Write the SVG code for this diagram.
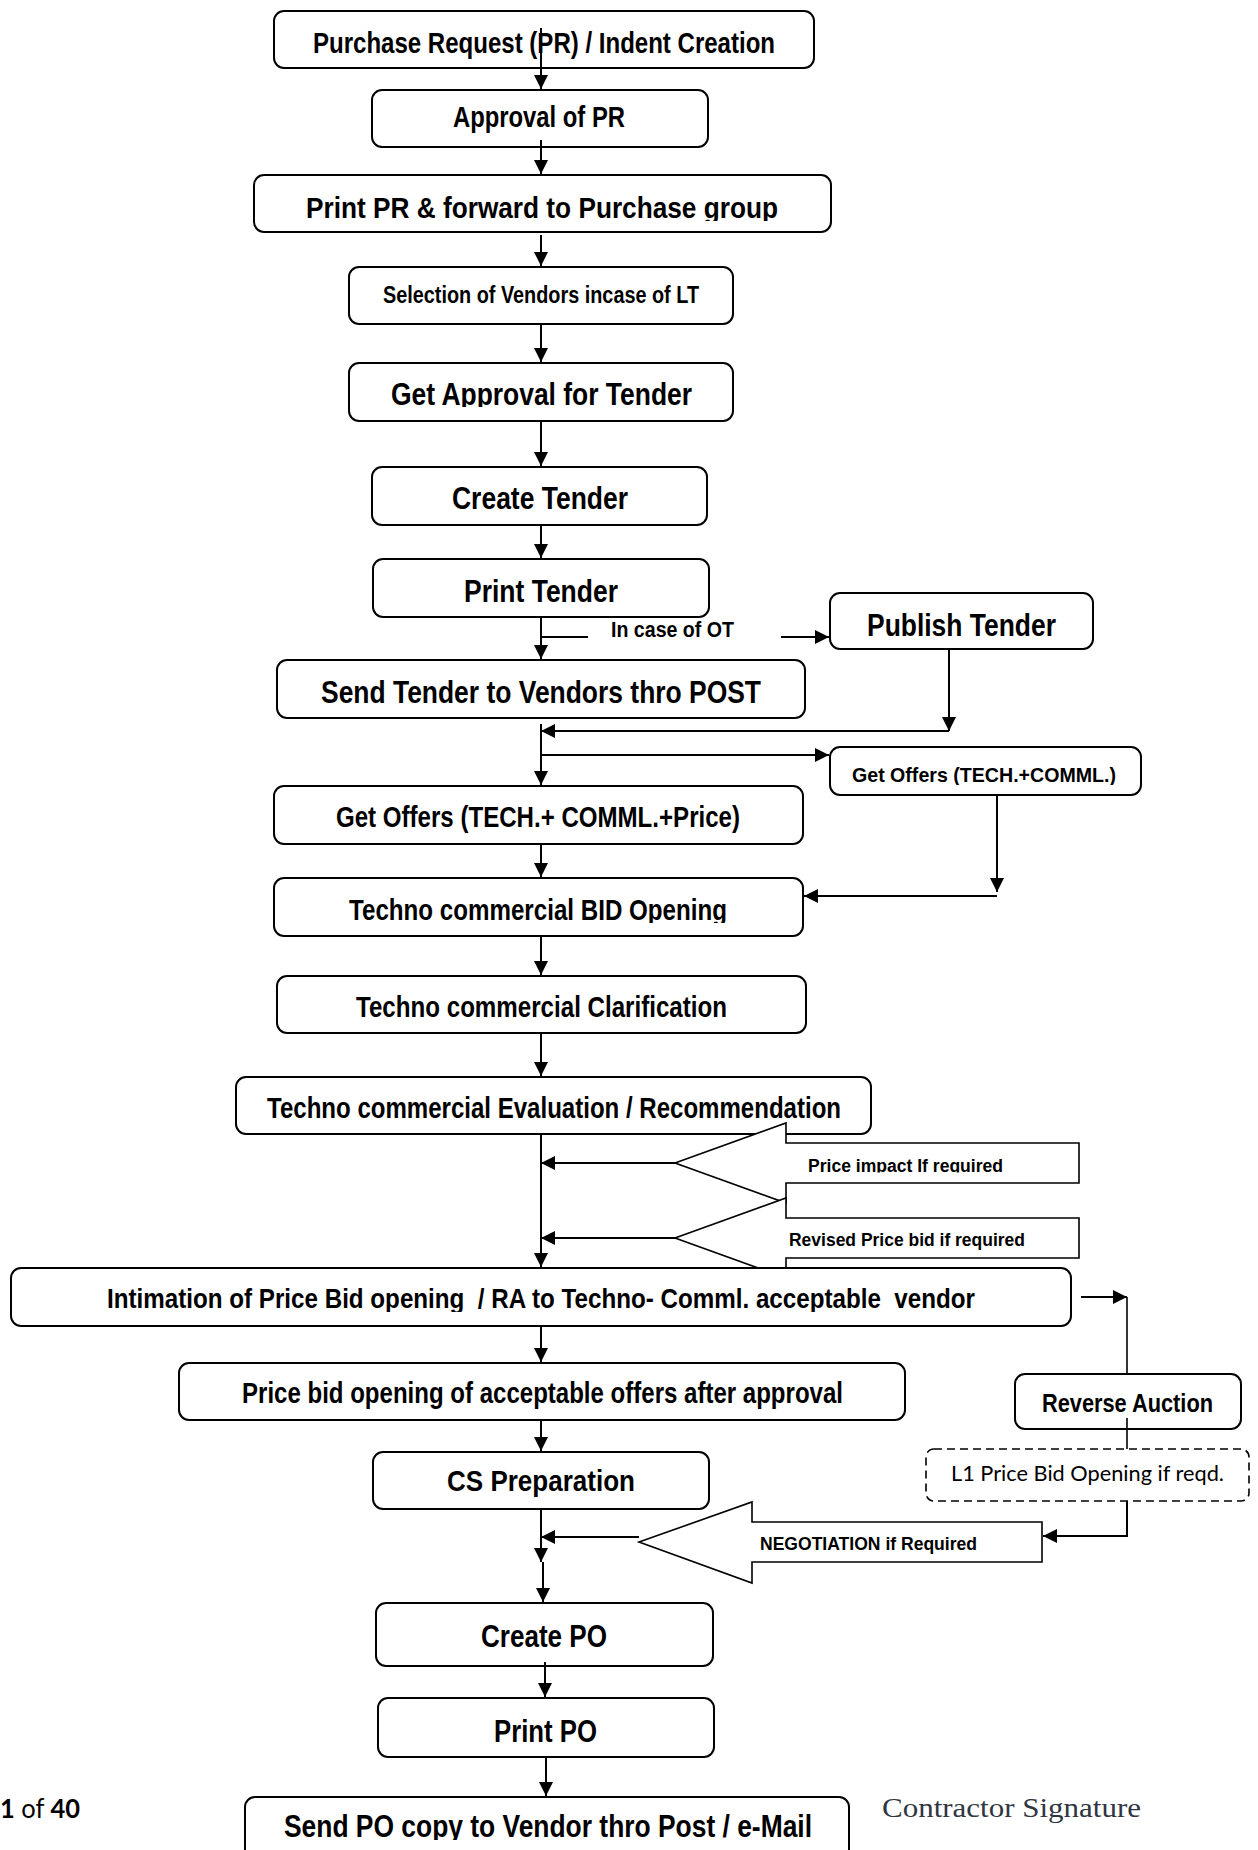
<svg xmlns="http://www.w3.org/2000/svg" width="1258" height="1850" viewBox="0 0 1258 1850">
<style>
.box{fill:#fff;stroke:#000;stroke-width:2}
.dash{fill:#fff;stroke:#000;stroke-width:1.6;stroke-dasharray:8 5}
.barrow{fill:#fff;stroke:#000;stroke-width:1.6}
.t{font-family:"Liberation Sans Narrow","Liberation Sans",Arial,sans-serif;font-weight:bold;fill:#000}
.ln{fill:none;stroke:#000;stroke-width:2}
</style>
<defs>
<marker id="ah" markerUnits="userSpaceOnUse" markerWidth="14" markerHeight="14" refX="14" refY="7" orient="auto">
<path d="M0,0 L14,7 L0,14 z" fill="#000"/>
</marker>
<clipPath id="c3"><rect x="0" y="0" width="1258" height="221"/></clipPath>
<clipPath id="c5"><rect x="0" y="0" width="1258" height="407"/></clipPath>
<clipPath id="c10"><rect x="0" y="0" width="1258" height="785"/></clipPath>
<clipPath id="c12"><rect x="0" y="0" width="1258" height="923"/></clipPath>
<clipPath id="cpi"><rect x="0" y="0" width="1258" height="1172.5"/></clipPath>
<clipPath id="c15"><rect x="0" y="0" width="1258" height="1312"/></clipPath>
<clipPath id="c16"><rect x="0" y="0" width="1258" height="1409"/></clipPath>
<clipPath id="c21"><rect x="0" y="0" width="1258" height="1840"/></clipPath>
</defs>

<g id="n1"><rect class="box" x="274" y="11" width="540" height="57" rx="10"/><text class="t" x="313" y="53" font-size="29" textLength="462" lengthAdjust="spacingAndGlyphs">Purchase Request (PR) / Indent Creation</text></g>
<g id="n2"><rect class="box" x="372" y="90" width="336" height="57" rx="10"/><text class="t" x="453" y="127" font-size="29" textLength="172" lengthAdjust="spacingAndGlyphs">Approval of PR</text></g>
<g id="n3"><rect class="box" x="254" y="175" width="577" height="57" rx="10"/><text class="t" x="306" y="218" font-size="29" textLength="472" lengthAdjust="spacingAndGlyphs" clip-path="url(#c3)">Print PR &amp; forward to Purchase group</text></g>
<g id="n4"><rect class="box" x="349" y="267" width="384" height="57" rx="10"/><text class="t" x="383" y="303" font-size="23" textLength="316" lengthAdjust="spacingAndGlyphs">Selection of Vendors incase of LT</text></g>
<g id="n5"><rect class="box" x="349" y="363" width="384" height="58" rx="10"/><text class="t" x="391" y="405" font-size="32" textLength="301" lengthAdjust="spacingAndGlyphs" clip-path="url(#c5)">Get Approval for Tender</text></g>
<g id="n6"><rect class="box" x="372" y="467" width="335" height="58" rx="10"/><text class="t" x="452" y="509" font-size="32" textLength="176" lengthAdjust="spacingAndGlyphs">Create Tender</text></g>
<g id="n7"><rect class="box" x="373" y="559" width="336" height="58" rx="10"/><text class="t" x="464" y="602" font-size="32" textLength="154" lengthAdjust="spacingAndGlyphs">Print Tender</text></g>
<g id="n8"><rect class="box" x="830" y="593" width="263" height="56" rx="10"/><text class="t" x="867" y="636" font-size="32" textLength="189" lengthAdjust="spacingAndGlyphs">Publish Tender</text></g>
<g id="n9"><rect class="box" x="277" y="660" width="528" height="58" rx="10"/><text class="t" x="321" y="703" font-size="32" textLength="440" lengthAdjust="spacingAndGlyphs">Send Tender to Vendors thro POST</text></g>
<g id="n10"><rect class="box" x="830" y="747" width="311" height="48" rx="10"/><text class="t" x="852" y="782" font-size="21" textLength="264" lengthAdjust="spacingAndGlyphs" clip-path="url(#c10)">Get Offers (TECH.+COMML.)</text></g>
<g id="n11"><rect class="box" x="274" y="786" width="529" height="58" rx="10"/><text class="t" x="336" y="827" font-size="29" textLength="404" lengthAdjust="spacingAndGlyphs">Get Offers (TECH.+ COMML.+Price)</text></g>
<g id="n12"><rect class="box" x="274" y="878" width="529" height="58" rx="10"/><text class="t" x="349" y="920" font-size="30" textLength="378" lengthAdjust="spacingAndGlyphs" clip-path="url(#c12)">Techno commercial BID Opening</text></g>
<g id="n13"><rect class="box" x="277" y="976" width="529" height="57" rx="10"/><text class="t" x="356" y="1017" font-size="30" textLength="371" lengthAdjust="spacingAndGlyphs">Techno commercial Clarification</text></g>
<g id="n14"><rect class="box" x="236" y="1077" width="635" height="57" rx="10"/><text class="t" x="267" y="1118" font-size="30" textLength="574" lengthAdjust="spacingAndGlyphs">Techno commercial Evaluation / Recommendation</text></g>

<g id="callout1"><polygon class="barrow" points="675,1163 786,1123 786,1143 1079,1143 1079,1183 786,1183 786,1203"/><text class="t" x="808" y="1172" font-size="18" textLength="195" lengthAdjust="spacingAndGlyphs" clip-path="url(#cpi)">Price impact If required</text></g>
<g id="callout2"><polygon class="barrow" points="675,1238 786,1198 786,1218 1079,1218 1079,1258 786,1258 786,1278"/><text class="t" x="789" y="1246" font-size="18" textLength="236" lengthAdjust="spacingAndGlyphs">Revised Price bid if required</text></g>

<g id="n15"><rect class="box" x="11" y="1268" width="1060" height="58" rx="10"/><text class="t" x="107" y="1308" font-size="28" textLength="868" lengthAdjust="spacingAndGlyphs" clip-path="url(#c15)" xml:space="preserve">Intimation of Price Bid opening  / RA to Techno- Comml. acceptable  vendor</text></g>
<g id="n16"><rect class="box" x="179" y="1363" width="726" height="57" rx="10"/><text class="t" x="242" y="1403" font-size="30" textLength="601" lengthAdjust="spacingAndGlyphs" clip-path="url(#c16)">Price bid opening of acceptable offers after approval</text></g>
<g id="n17"><rect class="box" x="1015" y="1374" width="226" height="55" rx="10"/><text class="t" x="1042" y="1412" font-size="25" textLength="171" lengthAdjust="spacingAndGlyphs">Reverse Auction</text></g>
<g id="n18"><rect class="box" x="373" y="1452" width="336" height="57" rx="10"/><text class="t" x="447" y="1491" font-size="30" textLength="188" lengthAdjust="spacingAndGlyphs">CS Preparation</text></g>
<g id="n19"><rect class="dash" x="926" y="1449" width="323" height="52" rx="8"/><text x="951" y="1481" font-family="Lato,'Open Sans','Liberation Sans',sans-serif" font-size="22" textLength="273" lengthAdjust="spacingAndGlyphs">L1 Price Bid Opening if reqd.</text></g>
<g id="callout3"><polygon class="barrow" points="639,1542 752,1502 752,1522 1042,1522 1042,1562 752,1562 752,1583"/><text class="t" x="760" y="1550" font-size="19" textLength="217" lengthAdjust="spacingAndGlyphs">NEGOTIATION if Required</text></g>
<g id="n20"><rect class="box" x="376" y="1603" width="337" height="63" rx="10"/><text class="t" x="481" y="1647" font-size="32" textLength="126" lengthAdjust="spacingAndGlyphs">Create PO</text></g>
<g id="n21"><rect class="box" x="378" y="1698" width="336" height="59" rx="10"/><text class="t" x="494" y="1742" font-size="32" textLength="103" lengthAdjust="spacingAndGlyphs">Print PO</text></g>
<g id="n22"><rect class="box" x="245" y="1797" width="604" height="70" rx="10"/><text class="t" x="284" y="1837" font-size="32" textLength="528" lengthAdjust="spacingAndGlyphs" clip-path="url(#c21)">Send PO copy to Vendor thro Post / e-Mail</text></g>

<g id="connectors">
<path class="ln" d="M541,28 V89" marker-end="url(#ah)"/>
<path class="ln" d="M541,140 V174" marker-end="url(#ah)"/>
<path class="ln" d="M541,235 V266" marker-end="url(#ah)"/>
<path class="ln" d="M541,324 V362" marker-end="url(#ah)"/>
<path class="ln" d="M541,421 V466" marker-end="url(#ah)"/>
<path class="ln" d="M541,525 V558" marker-end="url(#ah)"/>
<path class="ln" d="M541,617 V659" marker-end="url(#ah)"/>
<path class="ln" d="M541,637 H588"/>
<text class="t" x="611" y="637" font-size="22" textLength="123" lengthAdjust="spacingAndGlyphs">In case of OT</text>
<path class="ln" d="M781,637 H829" marker-end="url(#ah)"/>
<path class="ln" d="M949,649 V731" marker-end="url(#ah)"/>
<path class="ln" d="M949,731 H541" marker-end="url(#ah)"/>
<path class="ln" d="M541,724 V785" marker-end="url(#ah)"/>
<path class="ln" d="M541,755 H829" marker-end="url(#ah)"/>
<path class="ln" d="M997,795 V892" marker-end="url(#ah)"/>
<path class="ln" d="M997,896 H804" marker-end="url(#ah)"/>
<path class="ln" d="M541,844 V877" marker-end="url(#ah)"/>
<path class="ln" d="M541,936 V975" marker-end="url(#ah)"/>
<path class="ln" d="M541,1033 V1076" marker-end="url(#ah)"/>
<path class="ln" d="M541,1134 V1267" marker-end="url(#ah)"/>
<path class="ln" d="M675,1163 H541" marker-end="url(#ah)"/>
<path class="ln" d="M675,1238 H541" marker-end="url(#ah)"/>
<path class="ln" d="M1081,1297 H1127" marker-end="url(#ah)"/>
<path class="ln" d="M1127,1297 V1374" style="stroke-width:1.6"/>
<path class="ln" d="M541,1326 V1362" marker-end="url(#ah)"/>
<path class="ln" d="M541,1420 V1451" marker-end="url(#ah)"/>
<path class="ln" d="M1127,1418 V1449" style="stroke-width:1.6"/>
<path class="ln" d="M1127,1501 V1536 H1043" marker-end="url(#ah)"/>
<path class="ln" d="M639,1537 H541" marker-end="url(#ah)"/>
<path class="ln" d="M541,1509 V1562" marker-end="url(#ah)"/>
<path class="ln" d="M543,1562 V1602" marker-end="url(#ah)"/>
<path class="ln" d="M545,1662 V1697" marker-end="url(#ah)"/>
<path class="ln" d="M546,1757 V1796" marker-end="url(#ah)"/>
</g>

<text x="0" y="1818" font-family="Lato,'Open Sans','Liberation Sans',sans-serif" font-size="26" textLength="80" lengthAdjust="spacingAndGlyphs"><tspan font-weight="bold">1</tspan> of <tspan font-weight="bold">40</tspan></text>
<text x="882" y="1817" font-family="'Liberation Serif','DejaVu Serif',serif" font-size="28" fill="#2f3542" textLength="259" lengthAdjust="spacingAndGlyphs">Contractor Signature</text>
</svg>
